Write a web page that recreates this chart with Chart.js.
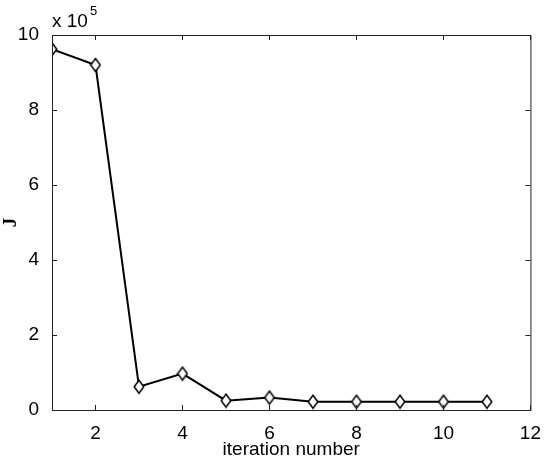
<!DOCTYPE html>
<html>
<head>
<meta charset="utf-8">
<script src="https://cdn.jsdelivr.net/npm/chart.js@4"></script>
<style>
  html, body { margin: 0; padding: 0; background: #fff; }
  #wrap { width: 547px; height: 459px; }
</style>
</head>
<body>
<div id="wrap"><canvas id="jChart" width="547" height="459"></canvas></div>
<script>
// data (J in units of 1e5)
const iterations = [1, 2, 3, 4, 5, 6, 7, 8, 9, 10, 11];
const jValues = [9.62, 9.2, 0.62, 0.97, 0.25, 0.33, 0.22, 0.22, 0.22, 0.22, 0.22];
const xTicks = [2, 4, 6, 8, 10, 12];
const yTicks = [0, 2, 4, 6, 8, 10];

const font = '"Liberation Sans", Arial, sans-serif';

// matlab diamond is a bit taller than wide
const diamond = document.createElement('canvas');
diamond.width = 12; diamond.height = 16;
(() => {
    const c = diamond.getContext('2d');
    c.beginPath();
    c.moveTo(6, 1.5); c.lineTo(10.8, 8); c.lineTo(6, 14.5); c.lineTo(1.2, 8); c.closePath();
    c.fillStyle = '#fff'; c.fill();
    c.lineWidth = 1.5; c.strokeStyle = '#000'; c.stroke();
})();

// matlab style box + inward ticks + exponent label
const matlabBox = {
    id: 'matlabBox',
    afterDraw(chart) {
        const { ctx, chartArea: a, scales } = chart;
        const len = 5;
        ctx.save();
        ctx.strokeStyle = '#222';
        ctx.lineWidth = 1;
        ctx.strokeRect(a.left + 0.5, a.top + 0.5, a.right - a.left, a.bottom - a.top);
        ctx.beginPath();
        xTicks.forEach(v => {
            const x = Math.round(scales.x.getPixelForValue(v)) + 0.5;
            ctx.moveTo(x, a.bottom); ctx.lineTo(x, a.bottom - len);
            ctx.moveTo(x, a.top); ctx.lineTo(x, a.top + len);
        });
        yTicks.forEach(v => {
            const y = Math.round(scales.y.getPixelForValue(v)) + 0.5;
            ctx.moveTo(a.left, y); ctx.lineTo(a.left + len, y);
            ctx.moveTo(a.right, y); ctx.lineTo(a.right - len, y);
        });
        ctx.stroke();
        // "x 10^5"
        ctx.fillStyle = '#000';
        ctx.textBaseline = 'alphabetic';
        ctx.font = '19px ' + font;
        ctx.fillText('x 10', a.left, a.top - 8);
        const w = ctx.measureText('x 10').width;
        ctx.font = '13px ' + font;
        ctx.fillText('5', a.left + w + 2, a.top - 20);
        ctx.restore();
    }
};

new Chart(document.getElementById('jChart').getContext('2d'), {
    type: 'line',
    data: {
        labels: iterations,
        datasets: [{
            data: iterations.map((x, i) => ({ x, y: jValues[i] })),
            borderColor: '#000',
            borderWidth: 2,
            pointStyle: diamond,
            tension: 0
        }]
    },
    options: {
        responsive: false,
        animation: false,
        layout: { padding: { left: 0, right: 15, top: 35, bottom: 0 } },
        plugins: { legend: { display: false }, tooltip: { enabled: false } },
        scales: {
            x: {
                type: 'linear',
                min: 1, max: 12,
                afterBuildTicks: s => { s.ticks = xTicks.map(v => ({ value: v })); },
                afterFit: s => { s.height = 49; },
                grid: { display: false },
                border: { display: false },
                ticks: { color: '#000', font: { family: font, size: 19, lineHeight: 1 }, padding: 6, maxRotation: 0 },
                title: { display: true, text: 'iteration number', color: '#000', font: { family: font, size: 19, lineHeight: 1 }, padding: { top: 5, bottom: 0 } }
            },
            y: {
                min: 0, max: 10,
                afterBuildTicks: s => { s.ticks = yTicks.map(v => ({ value: v })); },
                afterFit: s => { s.width = 52; },
                grid: { display: false },
                border: { display: false },
                ticks: { color: '#000', font: { family: font, size: 19 }, padding: 5 },
                title: { display: true, text: 'J', color: '#000', font: { family: '"Liberation Serif", "Times New Roman", serif', size: 19, weight: 'bold' }, padding: { top: 0, bottom: 2 } }
            }
        }
    },
    plugins: [matlabBox]
});
</script>
</body>
</html>
